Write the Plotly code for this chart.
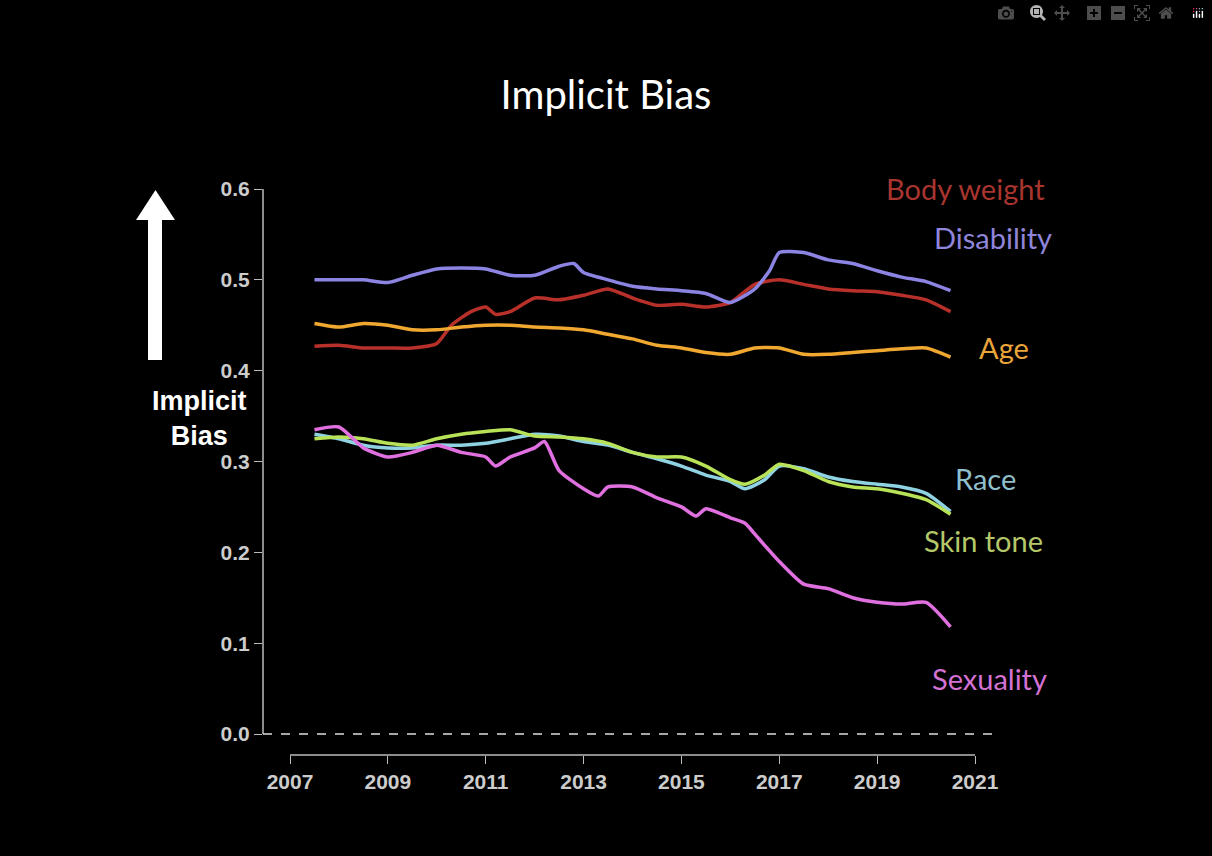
import plotly.graph_objects as go

disab_x = [2007.5,2008,2008.5,2009,2009.5,2010,2010.5,2011,2011.5,2012,2012.5,2012.8,2013,2013.5,2014,2014.5,2015,2015.5,2016,2016.5,2016.8,2017,2017.5,2018,2018.5,2019,2019.5,2020,2020.5]
disab_y = [0.50,0.50,0.50,0.497,0.505,0.512,0.513,0.512,0.505,0.505,0.515,0.518,0.508,0.50,0.493,0.49,0.488,0.485,0.475,0.49,0.51,0.53,0.53,0.522,0.518,0.51,0.503,0.498,0.488]
body_x = [2007.5,2008,2008.5,2009,2009.5,2010,2010.3,2010.7,2011,2011.2,2011.5,2012,2012.5,2013,2013.5,2014,2014.5,2015,2015.5,2016,2016.5,2017,2017.5,2018,2018.5,2019,2019.5,2020,2020.5]
body_y = [0.427,0.428,0.425,0.425,0.425,0.43,0.45,0.465,0.47,0.462,0.465,0.48,0.478,0.483,0.49,0.48,0.472,0.473,0.47,0.475,0.495,0.5,0.495,0.49,0.488,0.487,0.483,0.478,0.465]
age_x = [2007.5,2008,2008.5,2009,2009.5,2010,2010.5,2011,2011.5,2012,2012.5,2013,2013.5,2014,2014.5,2015,2015.5,2016,2016.5,2017,2017.5,2018,2018.5,2019,2019.5,2020,2020.5]
age_y = [0.452,0.448,0.452,0.45,0.445,0.445,0.448,0.45,0.45,0.448,0.447,0.445,0.44,0.435,0.428,0.425,0.42,0.418,0.425,0.425,0.418,0.418,0.42,0.422,0.424,0.425,0.415]
race_x = [2007.5,2008,2008.5,2009,2009.5,2010,2010.5,2011,2011.5,2012,2012.5,2013,2013.5,2014,2014.5,2015,2015.5,2016,2016.3,2016.7,2017,2017.5,2018,2018.5,2019,2019.5,2020,2020.5]
race_y = [0.33,0.325,0.318,0.315,0.315,0.318,0.318,0.32,0.325,0.33,0.328,0.322,0.318,0.31,0.303,0.295,0.285,0.278,0.27,0.28,0.295,0.292,0.283,0.278,0.275,0.272,0.265,0.245]
skin_x = race_x
skin_y = [0.325,0.327,0.325,0.32,0.318,0.325,0.33,0.333,0.335,0.328,0.327,0.325,0.32,0.31,0.305,0.305,0.295,0.28,0.275,0.285,0.297,0.29,0.278,0.272,0.27,0.265,0.258,0.242]
sex_x = [2007.5,2008,2008.5,2009,2009.5,2010,2010.5,2011,2011.2,2011.5,2012,2012.2,2012.5,2013,2013.3,2013.5,2014,2014.5,2015,2015.3,2015.5,2016,2016.3,2016.5,2017,2017.5,2018,2018.5,2019,2019.5,2020,2020.5]
sex_y = [0.335,0.338,0.315,0.305,0.31,0.318,0.31,0.305,0.295,0.305,0.315,0.322,0.29,0.27,0.262,0.272,0.272,0.26,0.25,0.24,0.248,0.238,0.232,0.22,0.19,0.165,0.16,0.15,0.145,0.143,0.145,0.118]

series = [
    ("Body weight", body_x, body_y, "#b8302a", "#a8352e", 965, 188),
    ("Disability", disab_x, disab_y, "#8c84e2", "#8f86dc", 993, 238),
    ("Age", age_x, age_y, "#f0a830", "#eaa53a", 1004, 347),
    ("Race", race_x, race_y, "#8fd2e2", "#8fbfcc", 985, 478),
    ("Skin tone", skin_x, skin_y, "#b8e258", "#b4c86a", 983, 540),
    ("Sexuality", sex_x, sex_y, "#e070e0", "#d472d4", 990, 678),
]
xticks = [2007, 2009, 2011, 2013, 2015, 2017, 2019, 2021]
yticks = [0.0, 0.1, 0.2, 0.3, 0.4, 0.5, 0.6]

L, R, T, B = 263, 975, 189, 755
def px(x): return (x - L) / (R - L)
def py(y): return (B - y) / (B - T)

fig = go.Figure()
for name, xs, ys, lc, tc, lx, ly in series:
    fig.add_trace(go.Scatter(x=xs, y=ys, mode="lines", line=dict(color=lc, width=3.5, shape="spline", smoothing=0.6), showlegend=False))
    fig.add_annotation(text=name, x=px(lx), y=py(ly), xref="paper", yref="paper", showarrow=False,
                       font=dict(color=tc, size=29, family="Lato"), xanchor="center", yanchor="middle")

shapes = [
    dict(type="line", xref="paper", yref="y", x0=0, x1=0, y0=0, y1=0.6, line=dict(color="#bbbbbb", width=1.5)),
    dict(type="line", xref="x", yref="paper", x0=2007, x1=2021, y0=0, y1=0, line=dict(color="#bbbbbb", width=1.5)),
    dict(type="line", xref="paper", yref="y", x0=0, x1=px(1000), y0=0, y1=0, line=dict(color="#dddddd", width=1.5, dash="dash")),
    dict(type="rect", xref="paper", yref="paper", x0=px(148), x1=px(162), y0=py(360), y1=py(218), fillcolor="white", line=dict(width=0)),
    dict(type="path", xref="paper", yref="paper",
         path=f"M {px(136)} {py(220)} L {px(175)} {py(220)} L {px(155.5)} {py(190)} Z", fillcolor="white", line=dict(width=0)),
]
fig.add_annotation(text="<b>Implicit<br>Bias</b>", x=px(150), y=py(418), xref="paper", yref="paper", showarrow=False,
                   font=dict(color="white", size=27, family="Liberation Sans"), align="center")

tf = dict(color="#cccccc", size=21, family="Liberation Sans")
fig.update_layout(
    width=1212, height=856, paper_bgcolor="black", plot_bgcolor="black",
    margin=dict(l=L, r=1212 - R, t=T, b=856 - B),
    title=dict(text="Implicit Bias", x=0.5, xanchor="center", y=1 - 95 / 856, yanchor="middle",
               font=dict(color="white", size=40, family="Lato")),
    shapes=shapes,
    xaxis=dict(range=[2007 - 27 / 48.93, 2021], tickvals=xticks, ticktext=[str(t) for t in xticks],
               showgrid=False, zeroline=False, showline=False, ticks="outside", ticklen=8, tickcolor="#bbbbbb",
               tickfont=tf),
    yaxis=dict(range=[-0.021 * 1.1, 0.6], tickvals=yticks, ticktext=[f"<b>{t:.1f}</b>" for t in yticks],
               showgrid=False, zeroline=False, showline=False, ticks="outside", ticklen=8, tickcolor="#bbbbbb",
               tickfont=tf),
)
fig.update_xaxes(ticktext=[f"<b>{t}</b>" for t in xticks])
fig.write_html("out.html")

with open("out.html", encoding="utf-8") as f:
    html = f.read()
html = html.replace("<head>", "<head><style>html,body{margin:0;padding:0;background:black;overflow:hidden}</style>", 1)
with open("out.html", "w", encoding="utf-8") as f:
    f.write(html)
